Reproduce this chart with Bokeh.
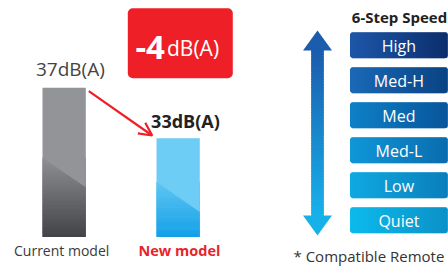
import numpy as np
from bokeh.plotting import figure
from bokeh.models import Range1d, Arrow, OpenHead, BoxAnnotation
from bokeh.embed import file_html
from bokeh.resources import INLINE
from bokeh.core.properties import value

# ---------------- data ----------------
models = ["Current model", "New model"]
noise_db = [37, 33]
noise_units = "dB(A)"
speed_title = "6-Step Speed"
speed_steps = ["High", "Med-H", "Med", "Med-L", "Low", "Quiet"]
footnote = "* Compatible Remote"

# ---------------- style / layout ----------------
W, H = 448, 266
FONT = value("Open Sans")
BASE_DB = 25.16
PX_PER_DB = 12.6
DB_START = BASE_DB - 29.5 / PX_PER_DB
DB_END = DB_START + H / PX_PER_DB

bar_left = [42.0, 156.0]
bar_w = 43.3
bar_flat = ["#939498", "#6dcdf4"]
bar_grad_bottom = ["#434448", "#14a0e8"]
bar_grad_top = ["#8e8f93", "#5fc5f2"]
diag_left = [0.531, 0.556]
diag_right = [0.334, 0.253]
label_colors = ["#3a3a3a", "#e8242b"]
value_colors = ["#444444", "#222222"]
value_dx = [6.2, 7.3]
value_dy = [-19, -17]
label_dx = [-2.5, 1.3]
red = "#ee1f26"

box_cols = [("#1d57a9", "#0c2e6c"), ("#1a69b7", "#0a4383"), ("#0e80c7", "#08559a"),
            ("#0f97d8", "#0a6cae"), ("#0fa9e2", "#0a7ebb"), ("#0cbaed", "#0b91c7")]


def hex2rgb(h):
    h = h.lstrip("#")
    return np.array([int(h[i:i + 2], 16) for i in (0, 2, 4)], dtype=float)


def mix(c0, c1, t):
    a, b = hex2rgb(c0), hex2rgb(c1)
    c = a + (b - a) * t
    return "#%02x%02x%02x" % tuple(int(round(v)) for v in c)


p = figure(width=W, height=H, x_range=Range1d(0, W), y_range=Range1d(0, H),
           output_backend="svg", toolbar_location=None,
           x_axis_location=None, y_axis_location=None, min_border=0)
p.grid.visible = False
p.outline_line_color = None
p.background_fill_color = "white"
p.border_fill_color = "white"
p.extra_y_ranges = {"db": Range1d(DB_START, DB_END)}

# reduction box (drawn beneath glyphs)
reduction = noise_db[0] - noise_db[1]
p.add_layout(BoxAnnotation(left=127.3, right=232.3, bottom=188.3, top=258.3,
                           fill_color=red, fill_alpha=1.0, line_color=None,
                           border_radius=5, level="underlay"))
p.text(x=[135.0], y=[219], text=[f"-{reduction}"], text_font=FONT,
       text_font_size="33px", text_font_style="bold", text_color="white",
       text_align="left", text_baseline="alphabetic")
p.text(x=[166.5], y=[218.5], text=[noise_units], text_font=FONT,
       text_font_size="21px", text_color="white",
       text_align="left", text_baseline="alphabetic")

# ---------------- bars ----------------
N = 60
for i, v in enumerate(noise_db):
    L = bar_left[i]
    R = L + bar_w
    yL = BASE_DB + diag_left[i] * (v - BASE_DB)
    yR = BASE_DB + diag_right[i] * (v - BASE_DB)
    p.quad(left=[L], right=[R], bottom=[BASE_DB], top=[v], fill_color=bar_flat[i],
           line_color=None, y_range_name="db")
    edges = np.linspace(BASE_DB, yL, N + 1)
    step = edges[1] - edges[0]
    bots = edges[:-1]
    tops = edges[1:] + step * 0.6
    tops[-1] = yL
    cols = [mix(bar_grad_bottom[i], bar_grad_top[i], k / (N - 1)) for k in range(N)]
    p.quad(left=[L] * N, right=[R] * N, bottom=list(bots), top=list(tops),
           fill_color=cols, line_color=None, y_range_name="db")
    p.patch(x=[L - 0.01, R, R], y=[yL, yR, yL], fill_color=bar_flat[i],
            line_color=None, y_range_name="db")
    p.text(x=[L + bar_w / 2 + value_dx[i]], y=[v],
           text=[f"{v}{noise_units}"], text_font=FONT,
           text_font_size="19px" if i == 0 else "18px",
           text_font_style="normal" if i == 0 else "bold",
           text_color=value_colors[i], text_align="center",
           text_baseline="alphabetic", y_offset=value_dy[i],
           y_range_name="db")
    p.text(x=[L + bar_w / 2 + label_dx[i]], y=[16.0], text=[models[i]],
           text_font=FONT, text_font_size="14px" if i == 0 else "14.5px",
           text_font_style="normal" if i == 0 else "bold",
           text_color=label_colors[i], text_align="center", text_baseline="alphabetic")

# red arrow from current to new bar top
ax0 = bar_left[0] + bar_w + 3.0
ax1 = bar_left[1] - 4.3
ay0 = noise_db[0] - 3.4 / PX_PER_DB
ay1 = noise_db[1] + 2.7 / PX_PER_DB
p.add_layout(Arrow(end=OpenHead(size=13, line_color=red, line_width=2.2),
                   x_start=ax0, y_start=ay0, x_end=ax1, y_end=ay1,
                   line_color=red, line_width=2.2, y_range_name="db"))

# ---------------- speed steps ----------------
p.text(x=[399], y=[250], text=[speed_title], text_font=FONT, text_font_size="15px",
       text_font_style="bold", text_color="#231f20", text_align="center",
       text_baseline="alphabetic")

BX0, BX1 = 349.5, 447.3
BH = 26.0
RAD = 3.0
xs = np.arange(BX0, BX1, 1.0)
for k, name in enumerate(speed_steps):
    top = 234.3 - 35.0 * k
    bot = top - BH
    c0, c1 = box_cols[k]
    lefts, rights, bots, tops, cols = [], [], [], [], []
    for x in xs:
        xc = x + 0.5
        d = min(xc - BX0, BX1 - xc)
        inset = RAD - np.sqrt(max(RAD ** 2 - (RAD - d) ** 2, 0)) if d < RAD else 0.0
        lefts.append(x)
        rights.append(min(x + 1.4, BX1))
        bots.append(bot + inset)
        tops.append(top - inset)
        cols.append(mix(c0, c1, (xc - BX0) / (BX1 - BX0)))
    p.quad(left=lefts, right=rights, bottom=bots, top=tops, fill_color=cols,
           line_color=None)
    p.text(x=[(BX0 + BX1) / 2], y=[(top + bot) / 2 - 0.5], text=[name], text_font=FONT,
           text_font_size="16px", text_color="white", text_align="center",
           text_baseline="middle")

# double arrow
AC = 317.0
ARROW_TOP, ARROW_BOT = "#1b5cad", "#17b1ea"
sh_bot, sh_top = 50.0, 217.0
M = 60
edges = np.linspace(sh_bot, sh_top, M + 1)
st = edges[1] - edges[0]
cols = [mix(ARROW_BOT, ARROW_TOP, j / (M - 1)) for j in range(M)]
p.quad(left=[AC - 6.3] * M, right=[AC + 6.3] * M, bottom=list(edges[:-1]),
       top=list(edges[1:] + st * 0.6), fill_color=cols, line_color=None)
p.patch(x=[AC - 14.5, AC + 14.5, AC], y=[216, 216, 236], fill_color=ARROW_TOP, line_color=None)
p.patch(x=[AC - 14.5, AC + 14.5, AC], y=[51, 51, 31], fill_color=ARROW_BOT, line_color=None)

p.text(x=[293.0], y=[10.5], text=[footnote], text_font=FONT, text_font_size="15px",
       text_color="#333333", text_align="left", text_baseline="alphabetic")

open("out.html", "w").write(file_html(p, INLINE))
